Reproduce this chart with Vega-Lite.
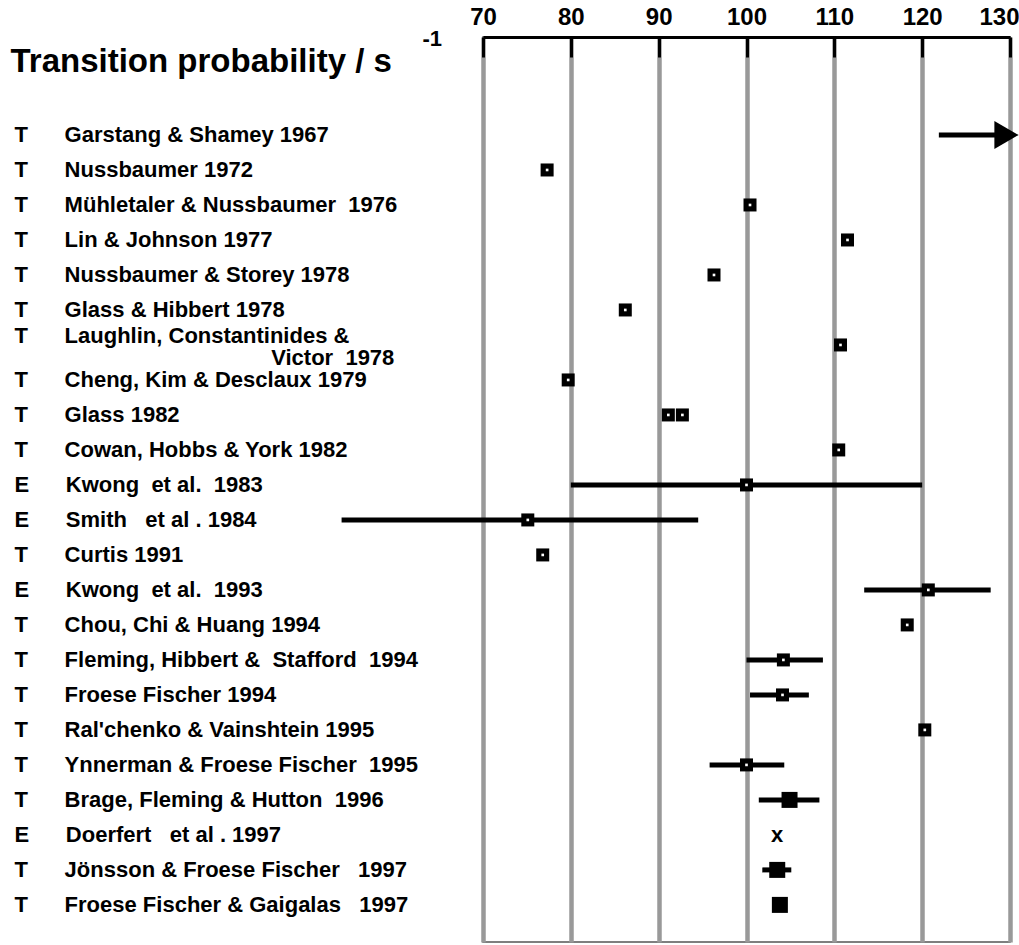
{
  "$schema": "https://vega.github.io/schema/vega-lite/v6.json",
  "width": 527,
  "height": 905,
  "autosize": "none",
  "padding": {"left": 483, "top": 37, "right": 9, "bottom": 3},
  "datasets": {
    "rows": [
      {"name": "Garstang & Shamey 1967", "type": "T", "lo": 121.9, "hi": 129.6},
      {"name": "Nussbaumer 1972", "type": "T", "value": 77.3},
      {"name": "Mühletaler & Nussbaumer\u00a0 1976", "type": "T", "value": 100.4},
      {"name": "Lin & Johnson 1977", "type": "T", "value": 111.5},
      {"name": "Nussbaumer & Storey 1978", "type": "T", "value": 96.3},
      {"name": "Glass & Hibbert 1978", "type": "T", "value": 86.2},
      {"name": "Laughlin, Constantinides & Victor 1978", "type": "T", "value": 110.7},
      {"name": "Cheng, Kim & Desclaux 1979", "type": "T", "value": 79.7},
      {"name": "Glass 1982", "type": "T", "value": 91.1},
      {"name": "Glass 1982", "type": "T", "value": 92.7},
      {"name": "Cowan, Hobbs & York 1982", "type": "T", "value": 110.5},
      {"name": "Kwong\u00a0 et al.\u00a0 1983", "type": "E", "value": 100.0, "lo": 80.0, "hi": 120.0},
      {"name": "Smith\u00a0\u00a0 et al . 1984", "type": "E", "value": 75.1, "lo": 53.9, "hi": 94.5},
      {"name": "Curtis 1991", "type": "T", "value": 76.8},
      {"name": "Kwong\u00a0 et al.\u00a0 1993", "type": "E", "value": 120.7, "lo": 113.4, "hi": 127.8},
      {"name": "Chou, Chi & Huang 1994", "type": "T", "value": 118.3},
      {"name": "Fleming, Hibbert &\u00a0 Stafford\u00a0 1994", "type": "T", "value": 104.2, "lo": 100.0, "hi": 108.7},
      {"name": "Froese Fischer 1994", "type": "T", "value": 104.1, "lo": 100.4, "hi": 107.1},
      {"name": "Ral'chenko & Vainshtein 1995", "type": "T", "value": 120.3},
      {"name": "Ynnerman & Froese Fischer\u00a0 1995", "type": "T", "value": 100.0, "lo": 95.8, "hi": 104.3},
      {"name": "Brage, Fleming & Hutton\u00a0 1996", "type": "T", "value": 104.9, "lo": 101.4, "hi": 108.3},
      {"name": "Doerfert\u00a0\u00a0 et al . 1997", "type": "E", "value": 103.5},
      {"name": "Jönsson & Froese Fischer\u00a0\u00a0 1997", "type": "T", "value": 103.5, "lo": 101.8, "hi": 105.1},
      {"name": "Froese Fischer & Gaigalas\u00a0\u00a0 1997", "type": "T", "value": 103.8}
    ]
  },
  "data": {"name": "rows"},
  "config": {
    "view": {"stroke": "#555555", "strokeWidth": 1.5},
    "font": "Liberation Sans"
  },
  "encoding": {
    "y": {
      "field": "name",
      "type": "nominal",
      "scale": {
        "type": "point",
        "padding": 0.93,
        "align": 0.43,
        "domain": ["_1", "_2", "Garstang & Shamey 1967", "Nussbaumer 1972", "Mühletaler & Nussbaumer\u00a0 1976", "Lin & Johnson 1977", "Nussbaumer & Storey 1978", "Glass & Hibbert 1978", "Laughlin, Constantinides & Victor 1978", "Cheng, Kim & Desclaux 1979", "Glass 1982", "Cowan, Hobbs & York 1982", "Kwong\u00a0 et al.\u00a0 1983", "Smith\u00a0\u00a0 et al . 1984", "Curtis 1991", "Kwong\u00a0 et al.\u00a0 1993", "Chou, Chi & Huang 1994", "Fleming, Hibbert &\u00a0 Stafford\u00a0 1994", "Froese Fischer 1994", "Ral'chenko & Vainshtein 1995", "Ynnerman & Froese Fischer\u00a0 1995", "Brage, Fleming & Hutton\u00a0 1996", "Doerfert\u00a0\u00a0 et al . 1997", "Jönsson & Froese Fischer\u00a0\u00a0 1997", "Froese Fischer & Gaigalas\u00a0\u00a0 1997"]
      },
      "axis": {
        "orient": "left",
        "domain": false,
        "ticks": false,
        "grid": false,
        "labelAlign": "left",
        "labelBaseline": "middle",
        "labelPadding": 469,
        "labelLimit": 470,
        "labelFont": "Liberation Sans",
        "labelFontSize": 22,
        "labelFontWeight": "bold",
        "labelColor": "#000000",
        "labelLineHeight": 22,
        "labelOffset": {"condition": {"test": "datum.value == 'Laughlin, Constantinides & Victor 1978'", "value": -9}, "value": 0},
        "labelExpr": "indexof(datum.value, '_') == 0 ? '' : datum.value == 'Laughlin, Constantinides & Victor 1978' ? ['T\u00a0\u00a0\u00a0\u00a0\u00a0\u00a0Laughlin, Constantinides &', '\u200b\u00a0\u00a0\u00a0\u00a0\u00a0\u00a0\u00a0\u00a0\u00a0\u00a0\u00a0\u00a0\u00a0\u00a0\u00a0\u00a0\u00a0\u00a0\u00a0\u00a0\u00a0\u00a0\u00a0\u00a0\u00a0\u00a0\u00a0\u00a0\u00a0\u00a0\u00a0\u00a0\u00a0\u00a0\u00a0\u00a0\u00a0\u00a0\u00a0\u00a0\u00a0\u00a0Victor\u00a0 1978'] : pluck(data('rows'), 'type')[indexof(pluck(data('rows'), 'name'), datum.value)] + '\u00a0\u00a0\u00a0\u00a0\u00a0\u00a0' + datum.value",
        "title": "Transition probability / s",
        "titleAngle": 0,
        "titleAlign": "left",
        "titleBaseline": "alphabetic",
        "titleX": -473,
        "titleY": 34,
        "titleFont": "Liberation Sans",
        "titleFontSize": 33,
        "titleFontWeight": "bold",
        "titleColor": "#000000"
      }
    }
  },
  "layer": [
    {
      "transform": [{"filter": {"field": "lo", "valid": true}}],
      "mark": {"type": "rule", "color": "#000000", "strokeWidth": 5},
      "encoding": {
        "x": {
          "field": "lo",
          "type": "quantitative",
          "scale": {"domain": [70, 130], "zero": false, "nice": false},
          "axis": {
            "orient": "top",
            "values": [70, 80, 90, 100, 110, 120, 130],
            "labelFont": "Liberation Sans",
            "labelFontSize": 24,
            "labelFontWeight": "bold",
            "labelColor": "#000000",
            "labelPadding": 28,
            "labelAlign": {"condition": {"test": "datum.value == 130", "value": "right"}, "value": "center"},
            "labelOffset": {"condition": {"test": "datum.value == 130", "value": 9}, "value": 0},
            "tickColor": "#000000",
            "tickWidth": 3,
            "tickSize": -20,
            "domainColor": "#000000",
            "domainWidth": 3,
            "grid": true,
            "gridColor": "#999999",
            "gridWidth": 4.5,
            "gridOpacity": 1,
            "title": "-1",
            "titleAngle": 0,
            "titleAlign": "left",
            "titleBaseline": "alphabetic",
            "titleX": -61,
            "titleY": 8,
            "titleFont": "Liberation Sans",
            "titleFontSize": 22,
            "titleFontWeight": "bold",
            "titleColor": "#000000"
          }
        },
        "x2": {"field": "hi"}
      }
    },
    {
      "transform": [{"filter": {"field": "name", "equal": "Garstang & Shamey 1967"}}],
      "mark": {"type": "point", "shape": "triangle-right", "filled": true, "color": "#000000", "opacity": 1, "size": 784, "strokeWidth": 0},
      "encoding": {"x": {"field": "hi", "type": "quantitative"}}
    },
    {
      "transform": [
        {"filter": {"field": "value", "valid": true}},
        {"filter": {"not": {"field": "name", "oneOf": ["Brage, Fleming & Hutton\u00a0 1996", "Doerfert\u00a0\u00a0 et al . 1997", "Jönsson & Froese Fischer\u00a0\u00a0 1997", "Froese Fischer & Gaigalas\u00a0\u00a0 1997"]}}}
      ],
      "mark": {"type": "point", "shape": "square", "filled": true, "color": "#000000", "opacity": 1, "size": 169, "strokeWidth": 0},
      "encoding": {"x": {"field": "value", "type": "quantitative"}}
    },
    {
      "transform": [
        {"filter": {"field": "value", "valid": true}},
        {"filter": {"not": {"field": "name", "oneOf": ["Brage, Fleming & Hutton\u00a0 1996", "Doerfert\u00a0\u00a0 et al . 1997", "Jönsson & Froese Fischer\u00a0\u00a0 1997", "Froese Fischer & Gaigalas\u00a0\u00a0 1997"]}}}
      ],
      "mark": {"type": "point", "shape": "square", "filled": true, "color": "#ffffff", "opacity": 1, "size": 7, "strokeWidth": 0},
      "encoding": {"x": {"field": "value", "type": "quantitative"}}
    },
    {
      "transform": [{"filter": {"field": "name", "oneOf": ["Brage, Fleming & Hutton\u00a0 1996", "Jönsson & Froese Fischer\u00a0\u00a0 1997", "Froese Fischer & Gaigalas\u00a0\u00a0 1997"]}}],
      "mark": {"type": "point", "shape": "square", "filled": true, "color": "#000000", "opacity": 1, "size": 256, "strokeWidth": 0},
      "encoding": {"x": {"field": "value", "type": "quantitative"}}
    },
    {
      "transform": [{"filter": {"field": "name", "equal": "Doerfert\u00a0\u00a0 et al . 1997"}}],
      "mark": {"type": "text", "text": "x", "font": "Liberation Sans", "fontSize": 22, "fontWeight": "bold", "color": "#000000", "align": "center", "baseline": "middle"},
      "encoding": {"x": {"field": "value", "type": "quantitative"}}
    }
  ]
}
